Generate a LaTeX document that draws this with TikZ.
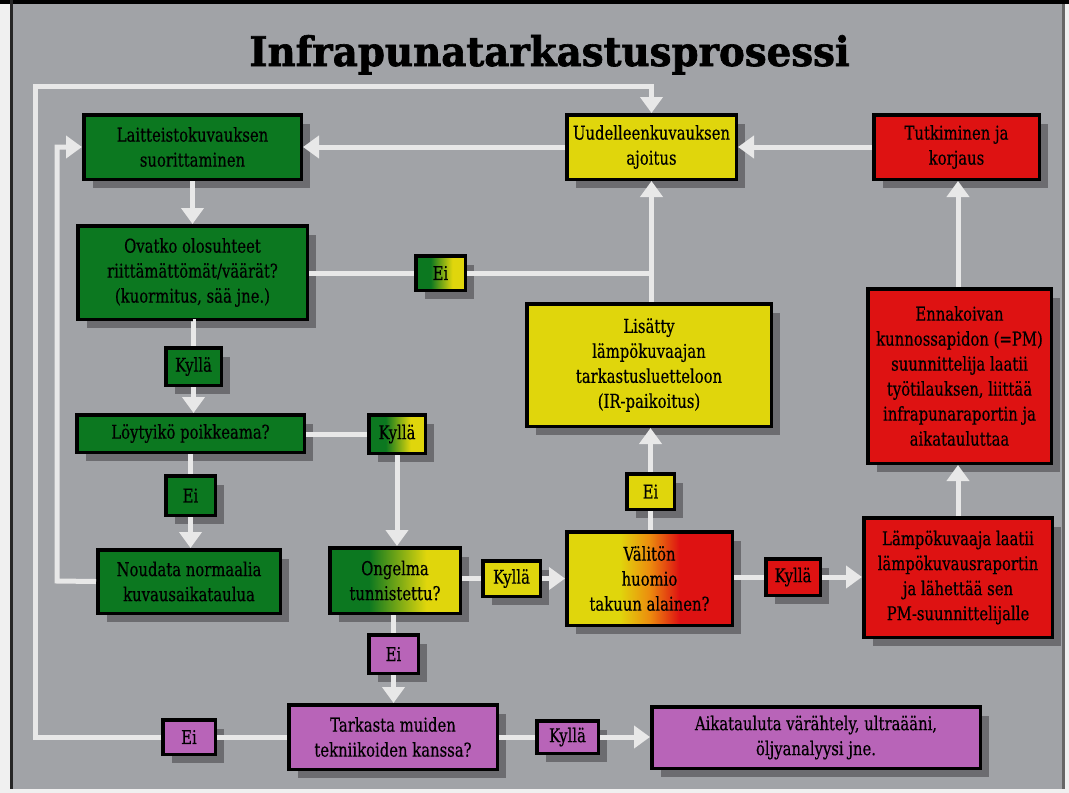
\documentclass[tikz,border=0pt]{standalone}
\usepackage{fontspec}
\setmainfont{DejaVu Serif}[FakeStretch=0.78,FakeBold=0.4]
\newfontfamily\titlefont{DejaVu Serif}[FakeStretch=0.85,FakeBold=1.5]
\usetikzlibrary{arrows.meta,shadows}
\definecolor{cbg}{RGB}{161,163,167}
\definecolor{cgreen}{RGB}{12,120,32}
\definecolor{cyellow}{RGB}{224,214,12}
\definecolor{cred}{RGB}{222,18,18}
\definecolor{corange}{RGB}{236,140,14}
\definecolor{cpurple}{RGB}{184,100,184}
\definecolor{cline}{RGB}{232,232,232}
\definecolor{cshadow}{RGB}{108,108,112}
\pgfdeclarehorizontalshading{gyshade}{100bp}{color(0bp)=(cgreen); color(25bp)=(cgreen); color(40bp)=(cgreen); color(62bp)=(cyellow); color(75bp)=(cyellow); color(100bp)=(cyellow)}
\pgfdeclarehorizontalshading{yrshade}{100bp}{color(0bp)=(cyellow); color(25bp)=(cyellow); color(41bp)=(cyellow); color(50bp)=(corange); color(59bp)=(cred); color(75bp)=(cred); color(100bp)=(cred)}
\tikzset{
  box/.style={draw=black, line width=3.5pt, inner sep=0pt, align=center, text=black,
    font=\fontsize{19}{25}\selectfont,
    drop shadow={shadow xshift=9pt, shadow yshift=-9pt, fill=cshadow, opacity=1}},
  gbox/.style={box, fill=cgreen},
  ybox/.style={box, fill=cyellow},
  rbox/.style={box, fill=cred},
  pbox/.style={box, fill=cpurple},
  gybox/.style={box, shade, shading=gyshade},
  yrbox/.style={box, shade, shading=yrshade},
  conn/.style={draw=cline, line width=5pt},
  arr/.style={conn, -{Triangle[width=22pt,length=16pt]}},
}
\newcommand\bx[7]{\node[#6, minimum width={#4pt-#2pt-3.5pt}, minimum height={#5pt-#3pt-3.5pt}] (#1) at ({(#2+#4)/2},{(#3+#5)/2}) {#7};}
\begin{document}
\begin{tikzpicture}[x=1pt,y=-1pt]
\useasboundingbox (0,0) rectangle (1069,793);
% frame and background
\fill[white!88!gray] (0,0) rectangle (1069,793);
\fill[cbg] (12,4) rectangle (1064,789);
\fill[black] (0,0) rectangle (1069,4);
\fill[black!85] (10,0) rectangle (13,789);
\fill[black!60] (1062,4) rectangle (1065,789);
% title
\node[anchor=base, inner sep=0pt, text=black] (title) at (549.5,66)
  {\resizebox{600pt}{31pt}{\titlefont\bfseries Infrapunatarkastusprosessi}};
% boxes
\bx{lai}{82}{113}{303}{181}{gbox}{Laitteistokuvauksen\\suorittaminen}
\bx{uud}{565}{113}{738}{181}{ybox}{Uudelleenkuvauksen\\ajoitus}
\bx{tut}{872}{113}{1041}{181}{rbox}{Tutkiminen ja\\korjaus}
\bx{ova}{76}{224}{309}{321}{gbox}{Ovatko olosuhteet\\riittämättömät/väärät?\\(kuormitus, sää jne.)}
\bx{eiA}{414}{254}{467}{292}{gybox}{Ei}
\bx{lis}{525}{302}{773}{428}{ybox}{Lisätty\\lämpökuvaajan\\tarkastusluetteloon\\(IR-paikoitus)}
\bx{enn}{866}{287}{1053}{465}{rbox}{Ennakoivan\\kunnossapidon (=PM)\\suunnittelija laatii\\työtilauksen, liittää\\infrapunaraportin ja\\aikatauluttaa}
\bx{kyA}{164}{346}{223}{387}{gbox}{Kyllä}
\bx{loy}{75}{413}{306}{454}{gbox}{Löytyikö poikkeama?}
\bx{kyB}{367}{413}{427}{455}{gybox}{Kyllä}
\bx{eiB}{164}{474}{217}{517}{gbox}{Ei}
\bx{nou}{96}{548}{282}{615}{gbox}{Noudata normaalia\\kuvausaikataulua}
\bx{ong}{328}{546}{462}{615}{gybox}{Ongelma\\tunnistettu?}
\bx{kyC}{481}{559}{542}{598}{ybox}{Kyllä}
\bx{val}{565}{530}{734}{627}{yrbox}{Välitön\\huomio\\takuun alainen?}
\bx{eiC}{625}{472}{676}{511}{ybox}{Ei}
\bx{kyD}{764}{557}{822}{597}{rbox}{Kyllä}
\bx{lam}{862}{516}{1054}{639}{rbox}{Lämpökuvaaja laatii\\lämpökuvausraportin\\ja lähettää sen\\PM-suunnittelijalle}
\bx{eiD}{367}{633}{420}{675}{pbox}{Ei}
\bx{tar}{287}{703}{499}{771}{pbox}{Tarkasta muiden\\tekniikoiden kanssa?}
\bx{eiE}{161}{718}{217}{756}{pbox}{Ei}
\bx{kyE}{535}{719}{600}{755}{pbox}{Kyllä}
\bx{aik}{650}{705}{982}{770}{pbox}{Aikatauluta värähtely, ultraääni,\\öljyanalyysi jne.}
% helper coordinates
\coordinate (in1) at (57,581);
\coordinate (in2) at (57,147);
\coordinate (out1) at (35,737);
\coordinate (out2) at (35,86);
% connectors
\draw[arr] (tut.west) -- (uud.east);
\draw[arr] (uud.west) -- (lai.east);
\draw[arr] (lai.south) -- (ova.north);
\draw[conn] (ova.south) -- (ova.south -| kyA.north) -- (kyA.north);
\draw[arr] (kyA.south) -- (kyA.south |- loy.north);
\draw[conn] (ova.east |- eiA.west) -- (eiA.west);
\draw[conn] (eiA.east) -- (eiA.east -| uud.south);
\draw[arr] (uud.south |- lis.north) -- (uud.south);
\draw[conn] (loy.east |- kyB.west) -- (kyB.west);
\draw[arr] (kyB.south) -- (kyB.south |- ong.north);
\draw[conn] (eiB.north |- loy.south) -- (eiB.north);
\draw[arr] (eiB.south) -- (eiB.south |- nou.north);
\draw[arr] (nou.west) -- (in1) -- (in2) -- (lai.west);
\draw[conn] (ong.east |- kyC.west) -- (kyC.west);
\draw[arr] (kyC.east) -- (kyC.east -| val.west);
\draw[conn] (eiC.south |- val.north) -- (eiC.south);
\draw[arr] (eiC.north) -- (eiC.north |- lis.south);
\draw[conn] (val.east |- kyD.west) -- (kyD.west);
\draw[arr] (kyD.east) -- (kyD.east -| lam.west);
\draw[arr] (lam.north) -- (lam.north |- enn.south);
\draw[arr] (lam.north |- enn.north) -- (lam.north |- tut.south);
\draw[conn] (eiD.north |- ong.south) -- (eiD.north);
\draw[arr] (eiD.south) -- (eiD.south |- tar.north);
\draw[conn] (tar.west |- eiE.east) -- (eiE.east);
\draw[arr] (eiE.west) -- (out1) -- (out2) -- (out2 -| uud.north) -- (uud.north);
\draw[conn] (tar.east |- kyE.west) -- (kyE.west);
\draw[arr] (kyE.east) -- (kyE.east -| aik.west);
\end{tikzpicture}
\end{document}
